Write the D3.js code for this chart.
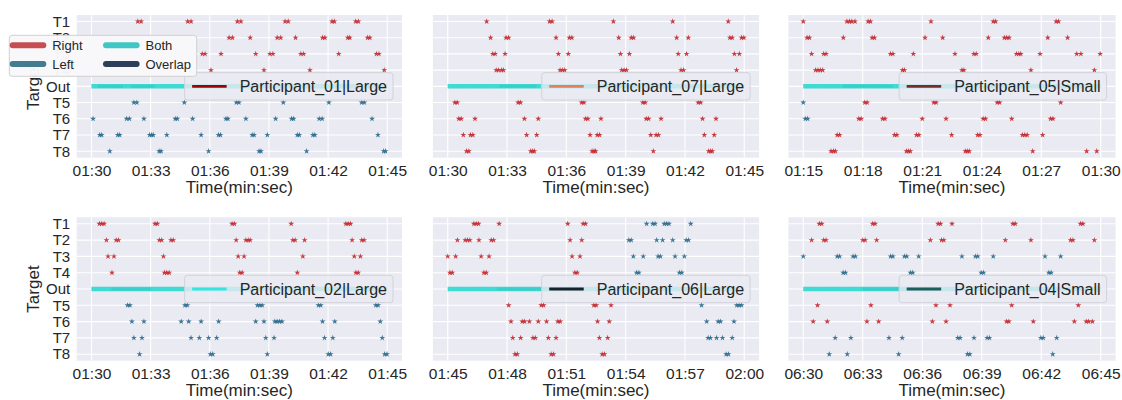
<!DOCTYPE html>
<html>
<head>
<meta charset="utf-8">
<script src="https://cdn.jsdelivr.net/npm/d3@7"></script>
<style>
  body { margin: 0; background: #fff; }
  svg { display: block; font-family: "Liberation Sans", Arial, sans-serif; }
</style>
</head>
<body>
<svg id="chart" width="1122" height="400"></svg>
<script>
// ─── Data (seconds) ───
const targets = ["T1", "T2", "T3", "T4", "Out", "T5", "T6", "T7", "T8"];

const p01Right = {
  T1: [92.35, 92.52, 94.88, 95.05, 97.4, 97.58, 99.82, 99.98, 102.2, 102.32, 103.4, 103.54],
  T2: [96.98, 97.15, 98.05, 99.42, 99.6, 100.35, 101.72, 101.84, 103.0, 103.1, 104.0, 104.12],
  T3: [95.62, 95.76, 96.57, 98.33, 99.05, 99.2, 100.62, 100.76, 102.54, 104.45, 104.58],
  T4: [96.06, 98.75, 101.08, 104.85],
};
const p01Left = {
  T5: [92.15, 92.3, 94.71, 97.35, 97.48, 99.73, 102.04, 103.7, 103.84],
  T6: [90.08, 91.78, 91.92, 92.66, 94.25, 94.35, 95.13, 96.82, 96.92, 97.83, 99.34, 100.15, 100.25, 101.55, 101.7, 104.23],
  T7: [90.42, 90.52, 91.33, 91.43, 92.95, 93.05, 93.13, 93.82, 95.56, 96.44, 96.54, 98.15, 98.25, 98.92, 100.44, 100.54, 101.23, 101.33, 104.53],
  T8: [90.93, 93.43, 93.53, 95.94, 98.5, 98.6, 100.91, 104.82, 104.92],
};

const p07Right = {
  T1: [91.97, 95.15, 95.28, 98.38, 101.38, 104.19],
  T2: [92.17, 92.95, 93.08, 95.48, 96.15, 96.28, 98.65, 99.28, 99.4, 101.58, 102.17, 104.27, 104.39, 104.86, 104.98],
  T3: [92.28, 92.4, 92.9, 95.6, 96.1, 98.74, 99.19, 101.66, 102.08, 104.5, 104.75],
  T4: [92.45, 92.57, 92.72, 92.82, 95.68, 95.8, 95.92, 98.8, 98.92, 99.04, 101.8, 101.93, 104.61],
  T5: [90.36, 90.48, 93.56, 93.68, 96.77, 96.89, 99.87, 99.99, 102.67, 102.79],
  T6: [90.56, 90.68, 91.38, 93.88, 94.58, 96.97, 97.09, 97.75, 100.04, 100.16, 100.79, 102.89, 103.57],
  T7: [90.79, 91.15, 91.27, 93.99, 94.5, 97.2, 97.56, 97.68, 100.27, 100.54, 100.66, 102.98, 103.48],
  T8: [90.95, 91.07, 94.2, 94.3, 94.38, 97.3, 97.4, 97.48, 100.4, 103.2, 103.3, 103.38],
};
const p07Left = {};

const p05Right = {
  T1: [75.0, 77.2, 77.33, 77.45, 77.61, 78.27, 78.39, 81.44, 84.58, 84.7, 87.75, 87.87],
  T2: [75.19, 75.31, 77.02, 78.47, 78.59, 81.14, 82.03, 84.33, 85.14, 85.26, 85.38, 87.33, 88.33],
  T3: [75.42, 76.03, 76.15, 79.4, 79.52, 80.55, 82.65, 83.6, 83.72, 85.75, 85.87, 85.97, 86.94, 88.79, 89.0, 89.97],
  T4: [75.62, 75.74, 75.86, 75.98, 80.0, 80.1, 83.0, 83.1, 86.48, 89.68],
  T5: [78.1, 78.22, 81.58, 81.7, 84.78, 84.9, 87.98],
  T6: [77.8, 77.92, 79.0, 79.12, 81.0, 82.2, 84.07, 84.19, 85.51, 87.47, 87.59],
  T7: [76.71, 76.83, 79.6, 79.72, 80.71, 80.83, 82.48, 83.79, 83.91, 86.05, 86.17, 86.29, 87.07],
  T8: [76.4, 76.52, 76.62, 80.2, 80.3, 80.4, 83.17, 83.27, 83.37, 86.57, 89.29, 89.8],
};
const p05Left = {
  T5: [75.0],
  T6: [75.1, 75.22],
};

const p02Right = {
  T1: [90.4, 90.52, 90.64, 93.22, 93.34, 97.13, 97.25, 100.13, 102.9, 103.02, 103.14],
  T2: [90.76, 91.25, 91.37, 93.44, 93.56, 94.03, 94.15, 97.34, 97.83, 97.95, 98.05, 100.21, 100.33, 100.81, 103.22, 103.71, 103.83],
  T3: [90.84, 91.14, 93.65, 97.44, 97.74, 100.72, 103.33, 103.64],
  T4: [91.04, 93.7, 93.82, 93.94, 97.52, 97.64, 100.44, 103.41, 103.53],
};
const p02Left = {
  T5: [91.83, 91.95, 94.74, 94.86, 98.42, 98.54, 98.66, 101.51, 101.63, 104.42, 104.54],
  T6: [92.05, 92.66, 94.55, 94.93, 95.56, 96.45, 98.33, 98.75, 99.3, 99.42, 99.54, 99.66, 101.72, 102.34, 104.65],
  T7: [92.15, 92.56, 95.05, 95.47, 95.94, 96.35, 98.84, 99.26, 101.82, 102.24, 104.75],
  T8: [92.44, 96.03, 96.15, 98.92, 102.01, 102.13, 104.87, 104.99],
};

const p06Right = {
  T1: [106.32, 106.44, 106.56, 107.6, 111.07, 111.85, 111.97],
  T2: [105.49, 105.88, 106.0, 106.12, 106.58, 107.2, 107.32, 111.19, 111.78],
  T3: [105.0, 105.4, 106.69, 107.09, 111.29, 111.69],
  T4: [105.11, 105.23, 106.83, 106.95, 111.43, 111.55],
  T5: [108.08, 109.73, 109.85, 112.39, 112.51, 113.26],
  T6: [108.2, 108.77, 108.89, 109.13, 109.58, 110.0, 110.57, 110.69, 112.58, 113.17],
  T7: [108.29, 108.69, 109.31, 109.43, 110.09, 110.48, 112.67, 113.09],
  T8: [108.4, 108.52, 110.23, 110.35, 112.81, 112.93],
};
const p06Left = {
  T1: [115.06, 115.37, 115.49, 115.95, 116.07, 116.19, 117.29],
  T2: [114.16, 114.28, 115.57, 115.87, 116.38, 117.06, 117.18],
  T3: [114.39, 114.89, 115.64, 115.76, 116.5, 116.97],
  T4: [114.55, 114.67, 116.72, 116.84],
  T5: [117.84, 119.62, 119.74, 119.86],
  T6: [118.1, 118.68, 118.8, 119.48],
  T7: [118.17, 118.29, 118.6, 118.9, 119.39],
  T8: [119.08, 119.2],
};

const p04Right = {
  T1: [390.81, 390.93, 393.5, 393.62, 396.8, 396.92, 397.5, 400.57, 400.69, 403.98, 404.1],
  T2: [390.42, 391.03, 391.15, 393.0, 393.12, 393.7, 396.41, 396.97, 397.09, 400.19, 401.48, 403.48, 403.6, 404.68],
  T5: [390.72, 393.41, 396.69, 397.4, 400.51, 403.87],
  T6: [390.5, 391.21, 393.21, 393.8, 396.51, 397.2, 400.25, 400.37, 401.6, 403.67, 404.27, 404.39, 404.58],
};
const p04Left = {
  T3: [390.0, 391.71, 391.83, 392.51, 392.63, 394.4, 394.52, 395.1, 395.22, 395.82, 398.0, 398.68, 398.8, 399.58, 402.19, 402.98],
  T4: [392.01, 392.13, 395.4, 395.52, 398.97, 399.09, 402.38, 402.5],
  T7: [391.61, 392.4, 394.32, 394.99, 397.79, 397.91, 398.61, 399.27, 399.39, 401.98, 402.1, 402.78],
  T8: [391.31, 392.22, 394.81, 398.28, 398.4, 402.58],
};

// "Out" span (both hands) and slightly darker overlap stretches inside it
const outSpans = [[90, 105], [90, 105], [75, 90], [90, 105], [105, 120], [390, 405]];
const overlapSpans = [[[90.3, 91.6], [92.0, 93.2]], [[92.6, 94.5]], [[77.0, 79.5]], [[91.0, 93.0]], [[107.5, 110.2]], [[393.0, 395.5]]];

const participants = ["Participant_01|Large", "Participant_07|Large", "Participant_05|Small",
                      "Participant_02|Large", "Participant_06|Large", "Participant_04|Small"];
const participantColors = ["#a00000", "#e0805c", "#7a2a2a", "#34e6df", "#17232b", "#1d5d5a"];
const startTimes = [90, 90, 75, 90, 105, 390];
const rightSets = [p01Right, p07Right, p05Right, p02Right, p06Right, p04Right];
const leftSets = [p01Left, p07Left, p05Left, p02Left, p06Left, p04Left];

const legendLabels = ["Right", "Left", "Both", "Overlap"];
const legendColors = ["#c44e52", "#437b8f", "#40c6c4", "#2d3e5a"];

// ─── Layout ───
const COLS = [[76.7, 402], [432.9, 759.1], [788.4, 1115.6]];
const ROWS = [[15, 157.7], [217.3, 360.7]];
const TEXT = "#262626";
const RIGHT_C = "#c4282f", LEFT_C = "#2b6a8c";
const FONT = "Liberation Sans, Arial, sans-serif";

const svg = d3.select("#chart");
const fmt = (s) => {
  const m = Math.floor(s / 60), sec = Math.round(s - m * 60);
  return String(m).padStart(2, "0") + ":" + String(sec).padStart(2, "0");
};
const star = d3.symbol(d3.symbolStar, 11);

participants.forEach((name, i) => {
  const col = i % 3, row = Math.floor(i / 3);
  const [x0, x1] = COLS[col], [y0, y1] = ROWS[row];
  const t0 = startTimes[i];
  const x = d3.scaleLinear().domain([t0 - 0.75, t0 + 15.75]).range([x0, x1]);
  const y = d3.scalePoint().domain(targets).range([y0, y1]).padding(0.4);

  const g = svg.append("g");
  g.append("rect").attr("x", x0).attr("y", y0).attr("width", x1 - x0).attr("height", y1 - y0)
    .attr("fill", "#eaeaf2");

  const ticks = d3.range(t0, t0 + 15.01, 3);
  g.selectAll("line.vg").data(ticks).join("line").attr("class", "vg")
    .attr("x1", (d) => x(d)).attr("x2", (d) => x(d)).attr("y1", y0).attr("y2", y1)
    .attr("stroke", "#fff").attr("stroke-width", 1.1);
  g.selectAll("line.hg").data(targets).join("line").attr("class", "hg")
    .attr("x1", x0).attr("x2", x1).attr("y1", (d) => y(d)).attr("y2", (d) => y(d))
    .attr("stroke", "#fff").attr("stroke-width", 1.1);

  // Out band
  const span = outSpans[i];
  g.append("line").attr("x1", x(span[0])).attr("x2", x(span[1]))
    .attr("y1", y("Out")).attr("y2", y("Out"))
    .attr("stroke", "#40ddd6").attr("stroke-width", 4.5);
  g.selectAll("line.ov").data(overlapSpans[i]).join("line").attr("class", "ov")
    .attr("x1", (d) => x(d[0])).attr("x2", (d) => x(d[1]))
    .attr("y1", y("Out")).attr("y2", y("Out"))
    .attr("stroke", "#2f9aa4").attr("stroke-width", 3).attr("opacity", 0.18);
  g.append("line").attr("x1", x(span[0])).attr("x2", x(span[1]))
    .attr("y1", y("Out")).attr("y2", y("Out"))
    .attr("stroke", "#30b8b8").attr("stroke-width", 4.5)
    .attr("stroke-dasharray", "1,2").attr("opacity", 0.18);

  // stars
  const pts = [];
  Object.entries(rightSets[i]).forEach(([k, ts]) => ts.forEach((t) => pts.push({ k, t, c: RIGHT_C })));
  Object.entries(leftSets[i]).forEach(([k, ts]) => ts.forEach((t) => pts.push({ k, t, c: LEFT_C })));
  g.selectAll("path.st").data(pts).join("path").attr("class", "st")
    .attr("d", star)
    .attr("transform", (d) => `translate(${x(d.t)},${y(d.k)})`)
    .attr("fill", (d) => d.c).attr("fill-opacity", 0.9);

  // axes
  const xa = g.append("g").attr("transform", `translate(0,${y1})`)
    .call(d3.axisBottom(x).tickValues(ticks).tickFormat(fmt).tickSize(0).tickPadding(7.5));
  xa.select(".domain").remove();
  xa.selectAll("text").attr("font-size", 15.5).attr("fill", TEXT).attr("font-family", FONT);
  g.append("text").attr("x", (x0 + x1) / 2).attr("y", y1 + 35).attr("text-anchor", "middle")
    .attr("font-size", 17).attr("fill", TEXT).text("Time(min:sec)");

  if (col === 0) {
    const ya = g.append("g").attr("transform", `translate(${x0},0)`)
      .call(d3.axisLeft(y).tickSize(0).tickPadding(6.5));
    ya.select(".domain").remove();
    ya.selectAll("text").attr("font-size", 15).attr("fill", TEXT).attr("font-family", FONT);
    g.append("text").attr("transform", `translate(33,${(y0 + y1) / 2}) rotate(-90)`)
      .attr("text-anchor", "middle").attr("dy", "0.35em")
      .attr("font-size", 17).attr("fill", TEXT).text("Target");
  }

  // participant legend (center right)
  const lg = g.append("g");
  const box = lg.append("rect").attr("rx", 3).attr("fill", "#eaeaf2").attr("fill-opacity", 0.8)
    .attr("stroke", "#d2d2da").attr("stroke-width", 1);
  const lt = lg.append("text").attr("font-size", 16).attr("fill", TEXT).attr("dy", "0.35em").text(name);
  const tw = lt.node().getComputedTextLength();
  const bw = 55 + tw + 6, bh = 27.4;
  const bx = x1 - 9 - bw, by = y("Out") - bh / 2;
  box.attr("x", bx).attr("y", by).attr("width", bw).attr("height", bh);
  lt.attr("x", bx + 55).attr("y", y("Out"));
  lg.append("line").attr("x1", bx + 7.5).attr("x2", bx + 42).attr("y1", y("Out")).attr("y2", y("Out"))
    .attr("stroke", participantColors[i]).attr("stroke-width", 2.8);
});

// ─── Figure legend (top left, drawn over the first panel) ───
const fl = svg.append("g");
fl.append("rect").attr("x", 9.3).attr("y", 35.3).attr("width", 187.4).attr("height", 41)
  .attr("rx", 3).attr("fill", "#f8f8fa").attr("fill-opacity", 0.97)
  .attr("stroke", "#d0d0d0").attr("stroke-width", 1);
const items = fl.selectAll("g.it").data(legendLabels).join("g").attr("class", "it")
  .attr("transform", (d, j) => `translate(${j < 2 ? 12.7 : 106},${j % 2 === 0 ? 45.3 : 64})`);
items.append("line").attr("x1", 0).attr("x2", 30.6)
  .attr("stroke", (d, j) => legendColors[j]).attr("stroke-width", 6).attr("stroke-linecap", "round");
items.append("text").attr("x", 39.5).attr("dy", "0.35em").attr("font-size", 13).attr("fill", TEXT)
  .text((d) => d);
</script>
</body>
</html>
